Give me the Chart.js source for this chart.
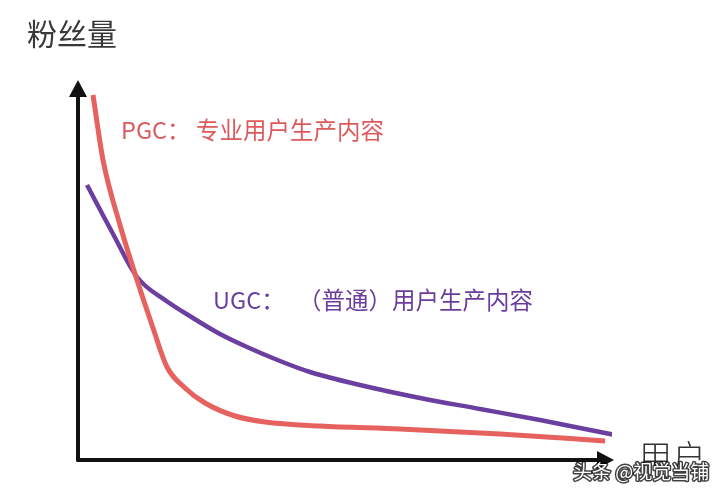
<!DOCTYPE html>
<html>
<head>
<meta charset="utf-8">
<script src="https://cdn.jsdelivr.net/npm/chart.js@4"></script>
<style>
  html, body { margin: 0; padding: 0; background: #fff; }
  #wrap { width: 720px; height: 497px; }
</style>
</head>
<body>
<div id="wrap"><canvas id="myChart" width="720" height="497"></canvas></div>
<script>
// 用户 (x) vs 粉丝量 (y)
var pgcX = [15, 25, 42, 59, 74, 89, 107, 127, 157, 187, 242, 322, 422, 527];
var pgcY = [365, 300, 235, 180, 135, 93, 72, 57, 44, 38, 34, 31, 26, 19];
var ugcX = [9, 34, 59, 87, 115, 142, 169, 202, 232, 282, 342, 402, 462, 537];
var ugcY = [275, 228, 183, 160, 142, 126, 113, 99, 88, 75, 62, 51, 40, 25];
var pgcLabel = ["PGC：", "专业用户生产内容"];
var ugcLabel = ["UGC：", "（普通）用户生产内容"];
var yTitle = "粉丝量";
var xTitle = "用户";
var watermark = "头条 @视觉当铺";

function toPoints(xs, ys) {
  var pts = [];
  for (var i = 0; i < xs.length; i++) pts.push({ x: xs[i], y: ys[i] });
  return pts;
}

var sketch = {
  id: 'sketch',
  beforeDatasetsDraw: function (chart) {
    var ctx = chart.ctx;
    var a = chart.chartArea;
    var x0 = a.left, y0 = a.bottom;
    ctx.save();
    ctx.strokeStyle = '#111';
    ctx.fillStyle = '#111';
    ctx.lineWidth = 4;
    ctx.lineCap = 'round';
    // y axis
    ctx.beginPath();
    ctx.moveTo(x0, y0);
    ctx.lineTo(x0, a.top + 10);
    ctx.stroke();
    ctx.beginPath();
    ctx.moveTo(x0, a.top);
    ctx.lineTo(x0 - 9, a.top + 17);
    ctx.lineTo(x0 + 9, a.top + 17);
    ctx.closePath();
    ctx.fill();
    // x axis
    ctx.beginPath();
    ctx.moveTo(x0, y0);
    ctx.lineTo(a.right - 10, y0);
    ctx.stroke();
    ctx.beginPath();
    ctx.moveTo(a.right + 2, y0);
    ctx.lineTo(a.right - 15, y0 - 9);
    ctx.lineTo(a.right - 15, y0 + 9);
    ctx.closePath();
    ctx.fill();
    ctx.restore();
  },
  afterDraw: function (chart) {
    var ctx = chart.ctx;
    ctx.save();
    ctx.textBaseline = 'middle';
    ctx.textAlign = 'left';
    ctx.fillStyle = '#383838';
    ctx.font = '400 30px "Noto Sans CJK SC"';
    ctx.fillText(yTitle, 27, 34);
    ctx.fillStyle = '#dc5a5c';
    ctx.font = '400 23.5px "Noto Sans CJK SC"';
    ctx.fillText(pgcLabel[0], 121, 130);
    ctx.fillText(pgcLabel[1], 196, 130);
    ctx.fillStyle = '#6a3d9c';
    ctx.fillText(ugcLabel[0], 213, 300);
    ctx.fillText(ugcLabel[1], 298, 300);
    // x title, cut off at the bottom like the source image
    ctx.save();
    ctx.beginPath();
    ctx.rect(600, 430, 120, 36);
    ctx.clip();
    ctx.fillStyle = '#333';
    ctx.font = '300 34px "Noto Sans CJK SC"';
    ctx.textBaseline = 'top';
    ctx.fillText(xTitle, 638, 440);
    ctx.restore();
    // watermark
    ctx.font = '400 19px "Noto Sans CJK SC"';
    ctx.textBaseline = 'middle';
    ctx.lineWidth = 3;
    ctx.strokeStyle = 'rgba(0,0,0,0.75)';
    ctx.lineJoin = 'round';
    ctx.strokeText(watermark, 573, 472);
    ctx.fillStyle = '#fff';
    ctx.fillText(watermark, 573, 472);
    ctx.restore();
  }
};

var chart = new Chart(document.getElementById('myChart'), {
  type: 'line',
  data: {
    datasets: [
      {
        label: 'PGC',
        data: toPoints(pgcX, pgcY),
        borderColor: '#e6625f',
        borderWidth: 5,
        pointRadius: 0,
        cubicInterpolationMode: 'monotone',
        fill: false
      },
      {
        label: 'UGC',
        data: toPoints(ugcX, ugcY),
        borderColor: '#6b3fa0',
        borderWidth: 4.5,
        pointRadius: 0,
        cubicInterpolationMode: 'monotone',
        fill: false
      }
    ]
  },
  options: {
    responsive: false,
    animation: false,
    layout: { padding: { left: 78, right: 108, top: 80, bottom: 37 } },
    plugins: { legend: { display: false }, tooltip: { enabled: false }, title: { display: false } },
    scales: {
      x: { type: 'linear', min: 0, max: 534, display: false },
      y: { min: 0, max: 380, display: false }
    }
  },
  plugins: [sketch]
});
</script>
</body>
</html>
